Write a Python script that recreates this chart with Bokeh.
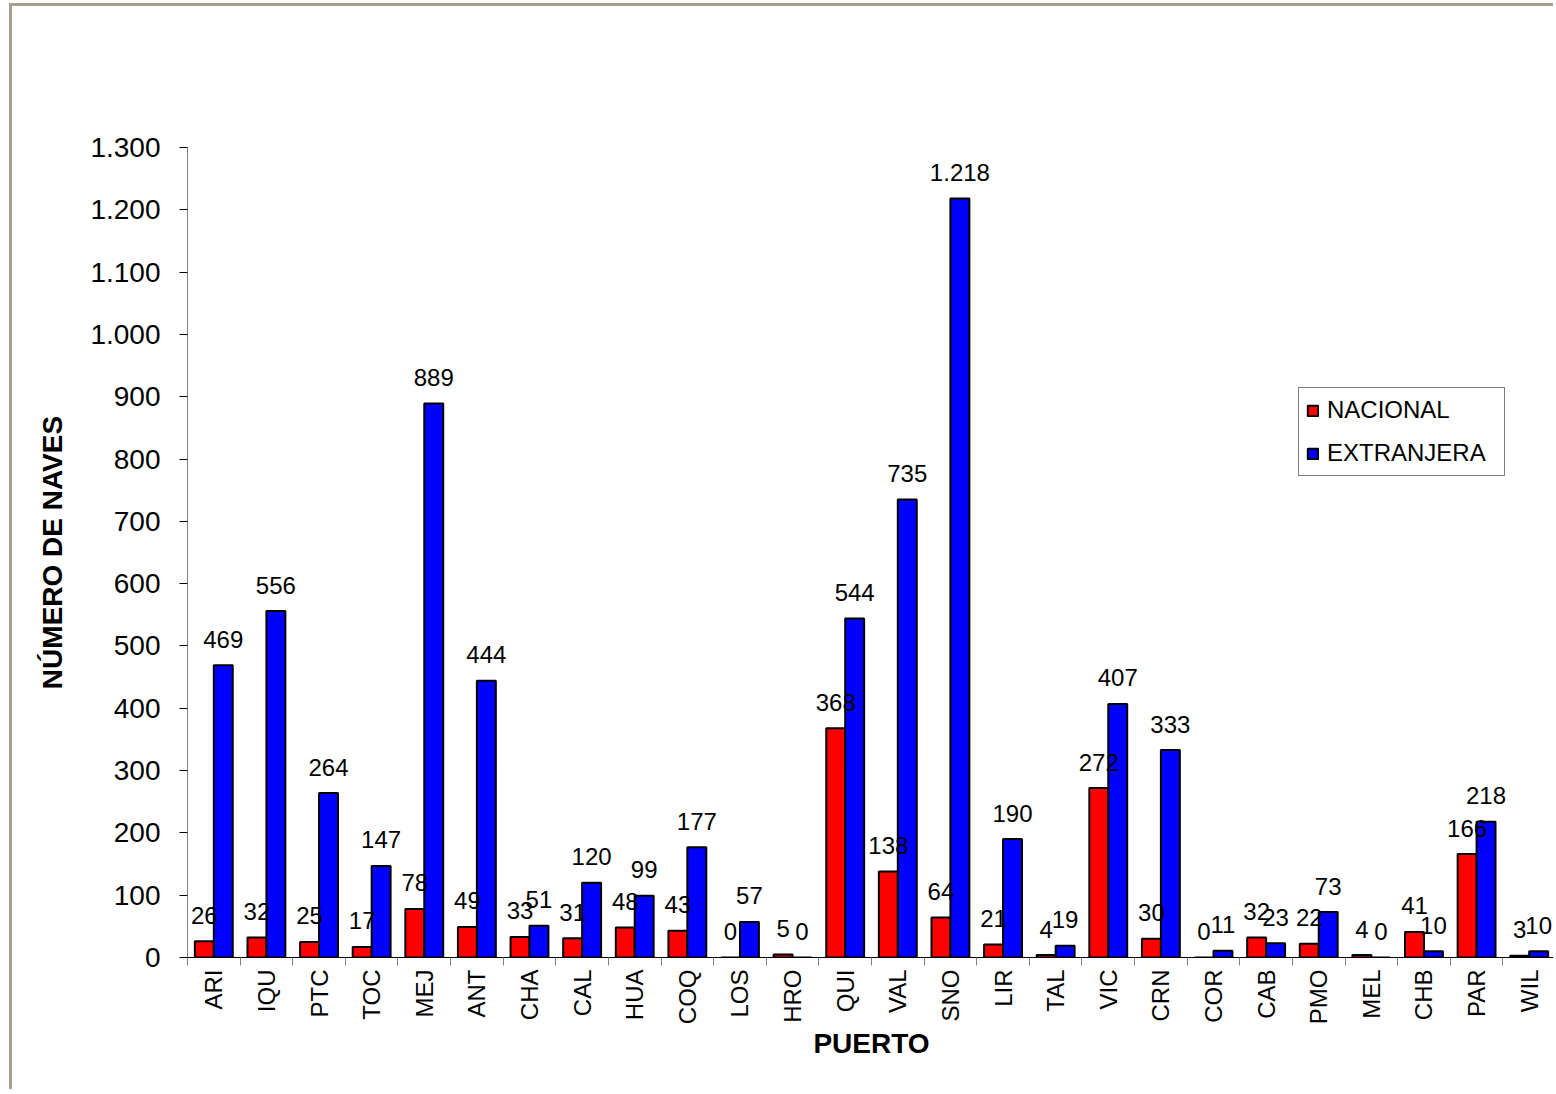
import math
from bokeh.plotting import figure
from bokeh.models import (ColumnDataSource, Range1d, FixedTicker, CustomJSTickFormatter,
                          Legend, LegendItem)
from bokeh.transform import dodge
from bokeh.core.properties import value
from bokeh.embed import file_html
from bokeh.resources import INLINE

# ---- data ----
puertos = ["ARI", "IQU", "PTC", "TOC", "MEJ", "ANT", "CHA", "CAL", "HUA", "COQ", "LOS", "HRO", "QUI",
           "VAL", "SNO", "LIR", "TAL", "VIC", "CRN", "COR", "CAB", "PMO", "MEL", "CHB", "PAR", "WIL"]
nacional = [26, 32, 25, 17, 78, 49, 33, 31, 48, 43, 0, 5, 368, 138, 64, 21, 4, 272, 30, 0, 32, 22, 4, 41, 166, 3]
extranjera = [469, 556, 264, 147, 889, 444, 51, 120, 99, 177, 57, 0, 544, 735, 1218, 190, 19, 407, 333, 11, 23,
              73, 0, 10, 218, 10]
y_ticks = [0, 100, 200, 300, 400, 500, 600, 700, 800, 900, 1000, 1100, 1200, 1300]
series_names = ["NACIONAL", "EXTRANJERA"]


def fmt(v):
    return f"{v:,}".replace(",", ".")


FONT = value("Liberation Sans")
n = len(puertos)
centers = [i + 0.5 for i in range(n)]
bounds = list(range(n + 1))

src = ColumnDataSource(dict(
    x=centers,
    nac=nacional,
    ext=extranjera,
    nac_lbl=[fmt(v) for v in nacional],
    ext_lbl=[fmt(v) for v in extranjera],
))

p = figure(width=1544, height=1086, output_backend="svg", toolbar_location=None,
           x_range=Range1d(0, n), y_range=Range1d(0, 1300),
           min_border_left=175, min_border_right=1, min_border_top=141, min_border_bottom=135)
p.styles = {"margin-top": "3px", "margin-left": "9px",
            "border-top": "3px solid #a8a08a", "border-left": "3px solid #a8a08a"}
p.outline_line_color = None
p.xgrid.visible = False
p.ygrid.visible = False
p.background_fill_color = "white"
p.border_fill_color = "white"

r_nac = p.vbar(x=dodge("x", -0.18), top="nac", width=0.36, source=src,
               fill_color="#FF0000", line_color="black", line_width=2)
r_ext = p.vbar(x=dodge("x", 0.18), top="ext", width=0.36, source=src,
               fill_color="#0000FF", line_color="black", line_width=2)

p.text(x=dodge("x", -0.18), y="nac", text="nac_lbl", source=src, text_align="center",
       text_baseline="alphabetic", y_offset=-26, text_font=FONT, text_font_size="24px", text_color="black")
p.text(x=dodge("x", 0.18), y="ext", text="ext_lbl", source=src, text_align="center",
       text_baseline="alphabetic", y_offset=-26, text_font=FONT, text_font_size="24px", text_color="black")

# x axis
xa = p.xaxis[0]
xa.ticker = FixedTicker(ticks=centers, minor_ticks=bounds)
xa.formatter = CustomJSTickFormatter(args=dict(cats=puertos), code="return cats[Math.floor(tick)];")
xa.major_label_orientation = math.pi / 2
xa.major_tick_out = 0
xa.major_tick_in = 0
xa.minor_tick_out = 8
xa.minor_tick_in = 0
xa.minor_tick_line_color = "#808080"
xa.axis_line_color = "black"
xa.major_label_standoff = 4
xa.major_label_text_font = "Liberation Sans"
xa.major_label_text_font_size = "24px"
xa.major_label_text_color = "black"
xa.axis_label = "PUERTO"
xa.axis_label_text_font = "Liberation Sans"
xa.axis_label_text_font_size = "28px"
xa.axis_label_text_font_style = "bold"
xa.axis_label_text_color = "black"
xa.axis_label_standoff = 1

# y axis
ya = p.yaxis[0]
ya.ticker = FixedTicker(ticks=y_ticks)
ya.formatter = CustomJSTickFormatter(code="return tick.toFixed(0).replace(/\\B(?=(\\d{3})+(?!\\d))/g, '.');")
ya.major_tick_out = 8
ya.major_tick_in = 0
ya.minor_tick_out = 0
ya.minor_tick_in = 0
ya.major_tick_line_color = "black"
ya.axis_line_color = "#808080"
ya.major_label_standoff = 19
ya.major_label_text_font = "Liberation Sans"
ya.major_label_text_font_size = "28px"
ya.major_label_text_color = "black"
ya.axis_label = "NÚMERO DE NAVES"
ya.axis_label_text_font = "Liberation Sans"
ya.axis_label_text_font_size = "28px"
ya.axis_label_text_font_style = "bold"
ya.axis_label_text_color = "black"
ya.axis_label_standoff = 19

legend = Legend(items=[LegendItem(label=series_names[0], renderers=[r_nac]),
                       LegendItem(label=series_names[1], renderers=[r_ext])],
                location=(1111, 481), orientation="vertical",
                padding=7, spacing=13, margin=0,
                label_height=30, label_width=170, glyph_height=13, glyph_width=13, label_standoff=8,
                label_text_font="Liberation Sans", label_text_font_size="24px", label_text_color="black",
                border_line_color="black", border_line_width=1,
                background_fill_color="white", background_fill_alpha=1.0)
p.add_layout(legend)

open("out.html", "w").write(file_html(p, INLINE))
